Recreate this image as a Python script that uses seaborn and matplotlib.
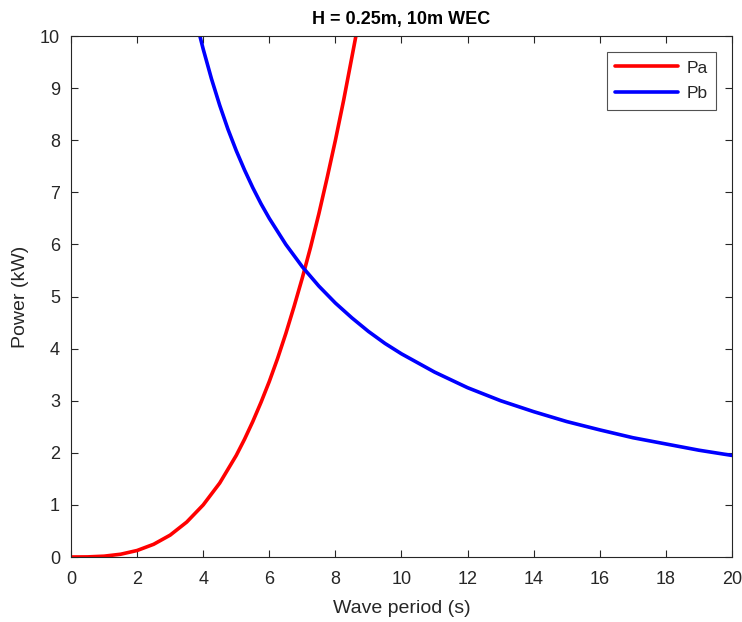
import matplotlib
matplotlib.use("Agg")
import matplotlib.pyplot as plt
import seaborn as sns
import pandas as pd

# values
period_a = [0, 0.5, 1, 1.5, 2, 2.5, 3, 3.5, 4, 4.5, 5, 5.25, 5.5, 5.75, 6, 6.25, 6.5, 6.75,
            7, 7.25, 7.5, 7.75, 8, 8.25, 8.5, 8.68]
power_a = [0, 0.002, 0.016, 0.053, 0.125, 0.244, 0.42, 0.67, 1.0, 1.42, 1.95, 2.26, 2.6,
           2.97, 3.37, 3.81, 4.29, 4.81, 5.36, 5.95, 6.59, 7.28, 8.0, 8.77, 9.6, 10.2]
period_b = [3.9, 4, 4.25, 4.5, 4.75, 5, 5.25, 5.5, 5.75, 6, 6.5, 7, 7.5, 8, 8.5, 9, 9.5, 10,
            11, 12, 13, 14, 15, 16, 17, 18, 19, 20]
power_b = [10.0, 9.75, 9.18, 8.67, 8.21, 7.8, 7.43, 7.09, 6.78, 6.5, 6.0, 5.57, 5.2, 4.875,
           4.59, 4.33, 4.1, 3.9, 3.55, 3.25, 3.0, 2.79, 2.6, 2.44, 2.29, 2.17, 2.05, 1.95]

df = pd.concat([
    pd.DataFrame({"T": period_a, "P": power_a, "curve": "Pa"}),
    pd.DataFrame({"T": period_b, "P": power_b, "curve": "Pb"}),
])

sns.set_style("ticks")
plt.rcParams["font.family"] = ["Liberation Sans", "DejaVu Sans"]

fig = plt.figure(figsize=(7.42, 6.22), dpi=100)
ax = fig.add_axes([0.0957, 0.1045, 0.8908, 0.8375])
sns.lineplot(data=df, x="T", y="P", hue="curve", palette={"Pa": "#ff0000", "Pb": "#0000ff"},
             linewidth=2.6, ax=ax, sort=False)

ax.set_xlim(0, 20)
ax.set_ylim(0, 10)
ax.set_xticks(range(0, 21, 2))
ax.set_yticks(range(0, 11))
ax.tick_params(direction="in", top=True, right=True, labelsize=13, length=5,
               colors="#262626", width=0.8)
ax.tick_params(axis="x", pad=10)
ax.tick_params(axis="y", pad=8)
for s in ax.spines.values():
    s.set_color("#262626")
    s.set_linewidth(0.8)
ax.set_xlabel("Wave period (s)", fontsize=14, color="#262626", labelpad=9)
ax.set_ylabel("Power (kW)", fontsize=14, color="#262626", labelpad=8)
ax.set_title("H = 0.25m, 10m WEC", fontsize=13, fontweight="bold", color="#000000", pad=9)

leg = ax.legend(loc="upper right", fontsize=12.5, frameon=True, fancybox=False,
                handlelength=3.6, borderaxespad=0.9, labelspacing=0.6, handletextpad=0.5,
                borderpad=0.5)
leg.get_frame().set_edgecolor("#262626")
leg.get_frame().set_linewidth(0.8)

fig.savefig("out.png", dpi=100)
